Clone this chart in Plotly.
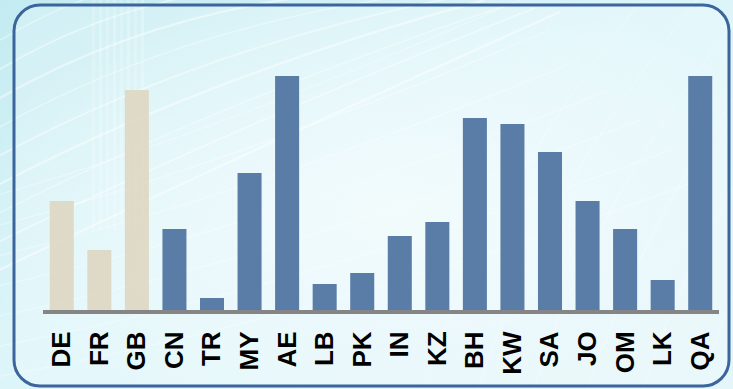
import base64
import plotly.graph_objects as go

# Country codes along the x axis and the bar heights
countries = ["DE", "FR", "GB", "CN", "TR", "MY", "AE", "LB", "PK",
             "IN", "KZ", "BH", "KW", "SA", "JO", "OM", "LK", "QA"]
values = [109, 60, 220, 81, 12, 137, 234, 26, 37,
          74, 88, 192, 186, 158, 109, 81, 30, 234]
# First three bars are the European reference group
groups = ["Europe"] * 3 + ["Other"] * 15

W, H = 733, 389
ML, MR, MT, MB = 43, 14, 30, 79
PW, PH = W - ML - MR, H - MT - MB

palette = {"Europe": "rgba(222,215,195,0.92)", "Other": "#5a7da8"}
bar_colors = [palette[g] for g in groups]

# Decorative backdrop: soft cyan gradient, light swooshes and a rounded frame
swooshes = []
for i in range(9):
    y0 = 60 + i * 28
    swooshes.append(
        f'<path d="M -30 {y0} Q {140 + i*10} {y0 - 120} {360 + i*25} {-20 + i*4}" '
        f'stroke="white" stroke-width="{1.2 + (i % 3) * 0.6}" fill="none" opacity="0.45"/>'
    )
for i in range(7):
    y0 = 200 + i * 30
    swooshes.append(
        f'<path d="M -20 {y0} Q {200 + i*20} {y0 - 60} {520 + i*30} {y0 - 200}" '
        f'stroke="white" stroke-width="1.3" fill="none" opacity="0.35"/>'
    )
for i in range(6):
    x0 = 420 + i * 55
    swooshes.append(
        f'<path d="M {x0} 400 Q {x0 + 60} 200 {x0 + 230} -10" '
        f'stroke="white" stroke-width="1.2" fill="none" opacity="0.25"/>'
    )
bands = "".join(
    f'<rect x="{92 + k*7}" y="0" width="3" height="230" fill="white" opacity="{0.18 + 0.05*(k%2)}"/>'
    for k in range(8)
)

svg = f'''<svg xmlns="http://www.w3.org/2000/svg" width="{W}" height="{H}" viewBox="0 0 {W} {H}">
<defs>
<linearGradient id="bg" x1="0" y1="0" x2="1" y2="1">
<stop offset="0" stop-color="#c3ebf1"/>
<stop offset="0.45" stop-color="#dcf5f9"/>
<stop offset="1" stop-color="#e4f6fa"/>
</linearGradient>
<radialGradient id="glow" cx="0.55" cy="0.55" r="0.6">
<stop offset="0" stop-color="#f0fbfd" stop-opacity="0.9"/>
<stop offset="1" stop-color="#f0fbfd" stop-opacity="0"/>
</radialGradient>
</defs>
<rect width="{W}" height="{H}" fill="url(#bg)"/>
<rect width="{W}" height="{H}" fill="url(#glow)"/>
{bands}
{''.join(swooshes)}
<rect x="14" y="5" width="715" height="381" rx="26" ry="26" fill="white" fill-opacity="0.22"
 stroke="#3b659c" stroke-width="3"/>
</svg>'''
src = "data:image/svg+xml;base64," + base64.b64encode(svg.encode()).decode()

fig = go.Figure(
    go.Bar(
        x=countries,
        y=values,
        marker=dict(color=bar_colors, line=dict(width=0)),
        hoverinfo="x+y",
    )
)

fig.update_layout(
    width=W,
    height=H,
    margin=dict(l=ML, r=MR, t=MT, b=MB, pad=0),
    paper_bgcolor="#d4f2f6",
    plot_bgcolor="rgba(0,0,0,0)",
    bargap=0.36,
    showlegend=False,
    images=[dict(
        source=src, xref="paper", yref="paper",
        x=-ML / PW, y=1 + MT / PH, sizex=W / PW, sizey=H / PH,
        xanchor="left", yanchor="top", sizing="stretch", layer="below",
    )],
    xaxis=dict(
        range=[-0.5, len(countries) - 0.5],
        showline=True, linecolor="#858585", linewidth=4,
        showgrid=False, zeroline=False, ticks="",
        tickangle=-90,
        tickfont=dict(family="Liberation Sans, Arial, sans-serif", size=26,
                      color="black", weight="bold"),
        ticklabelstandoff=7,
    ),
    yaxis=dict(visible=False, range=[0, PH], fixedrange=True),
)

fig.write_html("out.html")
